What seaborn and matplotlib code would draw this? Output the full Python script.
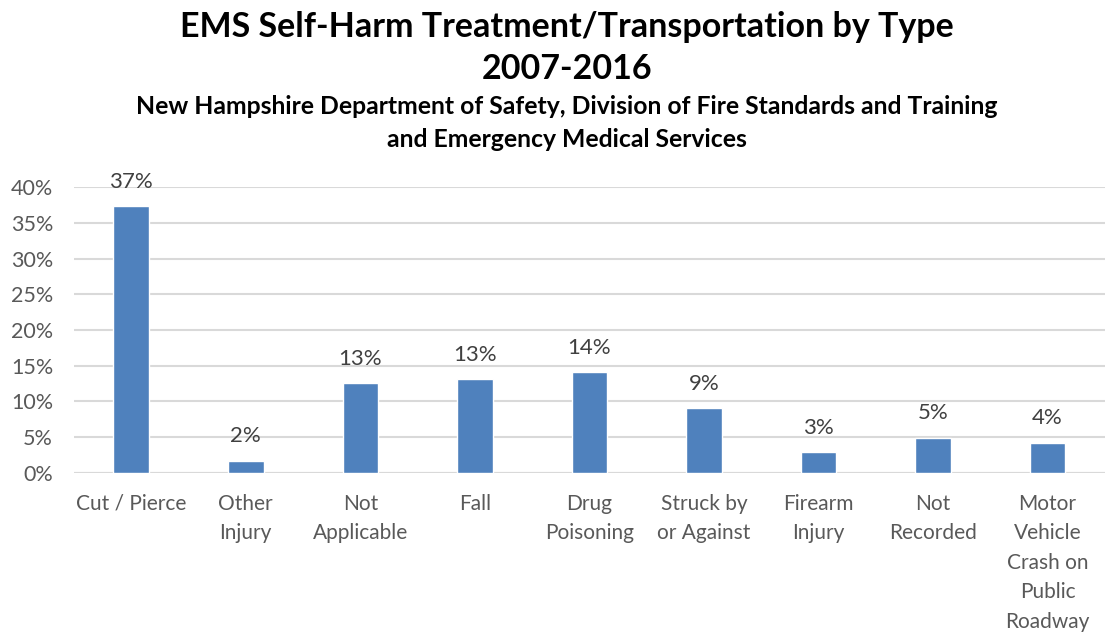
import seaborn as sns
import matplotlib.pyplot as plt
import pandas as pd

# Injury type shares (%)
categories = ['Cut / Pierce', 'Other\nInjury', 'Not\nApplicable', 'Fall', 'Drug\nPoisoning',
              'Struck by\nor Against', 'Firearm\nInjury', 'Not\nRecorded',
              'Motor\nVehicle\nCrash on\nPublic\nRoadway']
shares = [37.4, 1.7, 12.6, 13.1, 14.1, 9.0, 2.9, 4.9, 4.2]
y_ticks = [0, 5, 10, 15, 20, 25, 30, 35, 40]

df = pd.DataFrame({'type': categories, 'share': shares})

sns.set_style("white")
plt.rcParams['font.family'] = ['Lato', 'DejaVu Sans']

fig = plt.figure(figsize=(11.07, 6.35), dpi=100)
ax = fig.add_axes([0.0668, 0.2556, 0.9312, 0.4494])

sns.barplot(data=df, x='type', y='share', color='#4f81bd', saturation=1,
            width=0.31, ax=ax, zorder=3)

ax.set_ylim(0, 40)
ax.set_yticks(y_ticks)
ax.set_yticklabels([f'{t}%' for t in y_ticks])
ax.set_xlim(-0.5, len(categories) - 0.5)
ax.yaxis.grid(True, color='#d9d9d9', linewidth=1.5, zorder=0)
for s in ax.spines.values():
    s.set_visible(False)
ax.axhline(0, color='#d9d9d9', linewidth=1.5, zorder=2)
ax.tick_params(axis='both', length=0, labelsize=15.5, colors='#595959')
ax.tick_params(axis='x', labelsize=15, pad=15)
ax.tick_params(axis='y', pad=15)
for lbl in ax.get_xticklabels():
    lbl.set_linespacing(1.6)
    lbl.set_verticalalignment('top')
ax.set_xlabel('')
ax.set_ylabel('')

for i, v in enumerate(shares):
    ax.text(i, v + 2.0, f'{round(v):.0f}%', ha='center', va='bottom',
            fontsize=16, color='#404040')

cx = 0.512
fig.text(cx, 0.957, 'EMS Self-Harm Treatment/Transportation by Type', ha='center',
         va='center', fontsize=24.5, fontweight='bold', color='black')
fig.text(cx, 0.891, '2007-2016', ha='center', va='center', fontsize=24.5,
         fontweight='bold', color='black')
fig.text(cx, 0.833, 'New Hampshire Department of Safety, Division of Fire Standards and Training',
         ha='center', va='center', fontsize=17.8, fontweight='bold', color='black')
fig.text(cx, 0.780, 'and Emergency Medical Services', ha='center', va='center',
         fontsize=17.8, fontweight='bold', color='black')

fig.savefig('out.png', dpi=100, facecolor='white')
